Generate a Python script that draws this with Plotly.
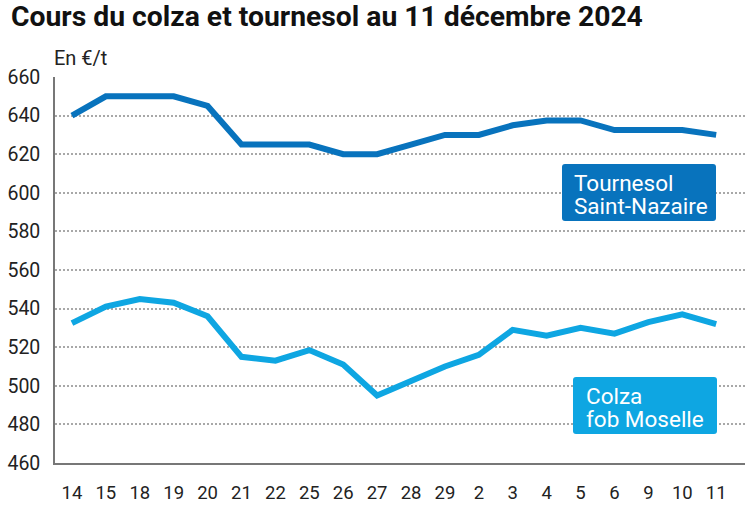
import plotly.graph_objects as go

days = ["14", "15", "18", "19", "20", "21", "22", "25", "26", "27", "28", "29",
        "2", "3", "4", "5", "6", "9", "10", "11"]
tournesol = [640, 650, 650, 650, 645, 625, 625, 625, 620, 620, 625, 630,
             630, 635, 637.5, 637.5, 632.5, 632.5, 632.5, 630]
colza = [532.5, 541, 545, 543, 536, 515, 513, 518.5, 511, 495, 502.5, 510,
         516, 529, 526, 530, 527, 533, 537, 532]
y_ticks = [460, 480, 500, 520, 540, 560, 580, 600, 620, 640, 660]
months = ["novembre", "décembre"]
labels_t = ["Tournesol", "Saint-Nazaire"]
labels_c = ["Colza", "fob Moselle"]

C_T = "#0873bd"
C_C = "#0ea6e2"
FONT = "Roboto"

L, R, T, B = 55, 2, 77, 50
W, H = 747, 513
PW, PH = W - L - R, H - T - B


def px(X):
    return (X - L) / PW


def py(Y):
    return (H - B - Y) / PH


def rounded_box(x0, y0, x1, y1, r=3):
    # pixel box -> SVG path in paper coords with rounded corners
    pts = [
        ("M", x0 + r, y0), ("L", x1 - r, y0), ("Q", x1, y0, x1, y0 + r),
        ("L", x1, y1 - r), ("Q", x1, y1, x1 - r, y1), ("L", x0 + r, y1),
        ("Q", x0, y1, x0, y1 - r), ("L", x0, y0 + r), ("Q", x0, y0, x0 + r, y0),
    ]
    out = []
    for p in pts:
        cmd = p[0]
        coords = p[1:]
        s = cmd
        for i in range(0, len(coords), 2):
            s += f" {px(coords[i]):.5f},{py(coords[i + 1]):.5f}"
        out.append(s)
    return " ".join(out) + " Z"


xs = list(range(len(days)))

fig = go.Figure()
fig.add_trace(go.Scatter(x=xs, y=tournesol, mode="lines",
                         line=dict(color=C_T, width=6), hoverinfo="skip"))
fig.add_trace(go.Scatter(x=xs, y=colza, mode="lines",
                         line=dict(color=C_C, width=6), hoverinfo="skip"))

fig.update_layout(
    width=W, height=H,
    margin=dict(l=L, r=R, t=T, b=B),
    paper_bgcolor="white", plot_bgcolor="white",
    showlegend=False,
    font=dict(family=FONT, color="#222222", size=18),
    xaxis=dict(range=[-0.5, 19.85], tickvals=xs, ticktext=days,
               showgrid=False, zeroline=False,
               showline=True, linecolor="#777777", linewidth=1.5,
               ticks="outside", ticklen=12, tickcolor="rgba(0,0,0,0)",
               tickfont=dict(size=18.5, color="#222222")),
    yaxis=dict(range=[460, 660], tickvals=y_ticks,
               showgrid=True, gridcolor="#a8a8a8", griddash="2px,2px", gridwidth=1.5,
               zeroline=False,
               showline=True, linecolor="#777777", linewidth=1.5,
               ticks="outside", ticklen=9, tickcolor="rgba(0,0,0,0)",
               tickfont=dict(size=19.5, color="#222222")),
)

fig.add_annotation(text="<b>Cours du colza et tournesol au 11 décembre 2024</b>",
                   xref="paper", yref="paper", x=px(9), y=py(16),
                   xanchor="left", yanchor="middle", showarrow=False,
                   font=dict(family=FONT, size=28.3, color="#111111"))
fig.add_annotation(text="En €/t", xref="paper", yref="paper",
                   x=px(52), y=py(58), xanchor="left", yanchor="middle",
                   showarrow=False, font=dict(size=20, color="#222222"))

# label boxes
fig.add_shape(type="path", xref="paper", yref="paper",
              path=rounded_box(562, 164, 716, 221),
              fillcolor=C_T, line=dict(width=0), layer="above")
fig.add_shape(type="path", xref="paper", yref="paper",
              path=rounded_box(573, 377, 717, 434),
              fillcolor=C_C, line=dict(width=0), layer="above")

for txt, yy in zip(labels_t, [183, 206]):
    fig.add_annotation(text=txt, xref="paper", yref="paper", x=px(572), y=py(yy),
                       xanchor="left", yanchor="middle", showarrow=False,
                       font=dict(size=22.5, color="white"))
for txt, yy in zip(labels_c, [396, 419]):
    fig.add_annotation(text=txt, xref="paper", yref="paper", x=px(584), y=py(yy),
                       xanchor="left", yanchor="middle", showarrow=False,
                       font=dict(size=22.5, color="white"))

fig.add_annotation(text=months[0], x=6, xref="x", yref="paper",
                   y=py(522), yanchor="middle", showarrow=False,
                   font=dict(size=19, color="#222222"))
fig.add_annotation(text=months[1], x=15.55, xref="x", yref="paper",
                   y=py(522), yanchor="middle", showarrow=False,
                   font=dict(size=19, color="#222222"))

fig.write_html("out.html")
